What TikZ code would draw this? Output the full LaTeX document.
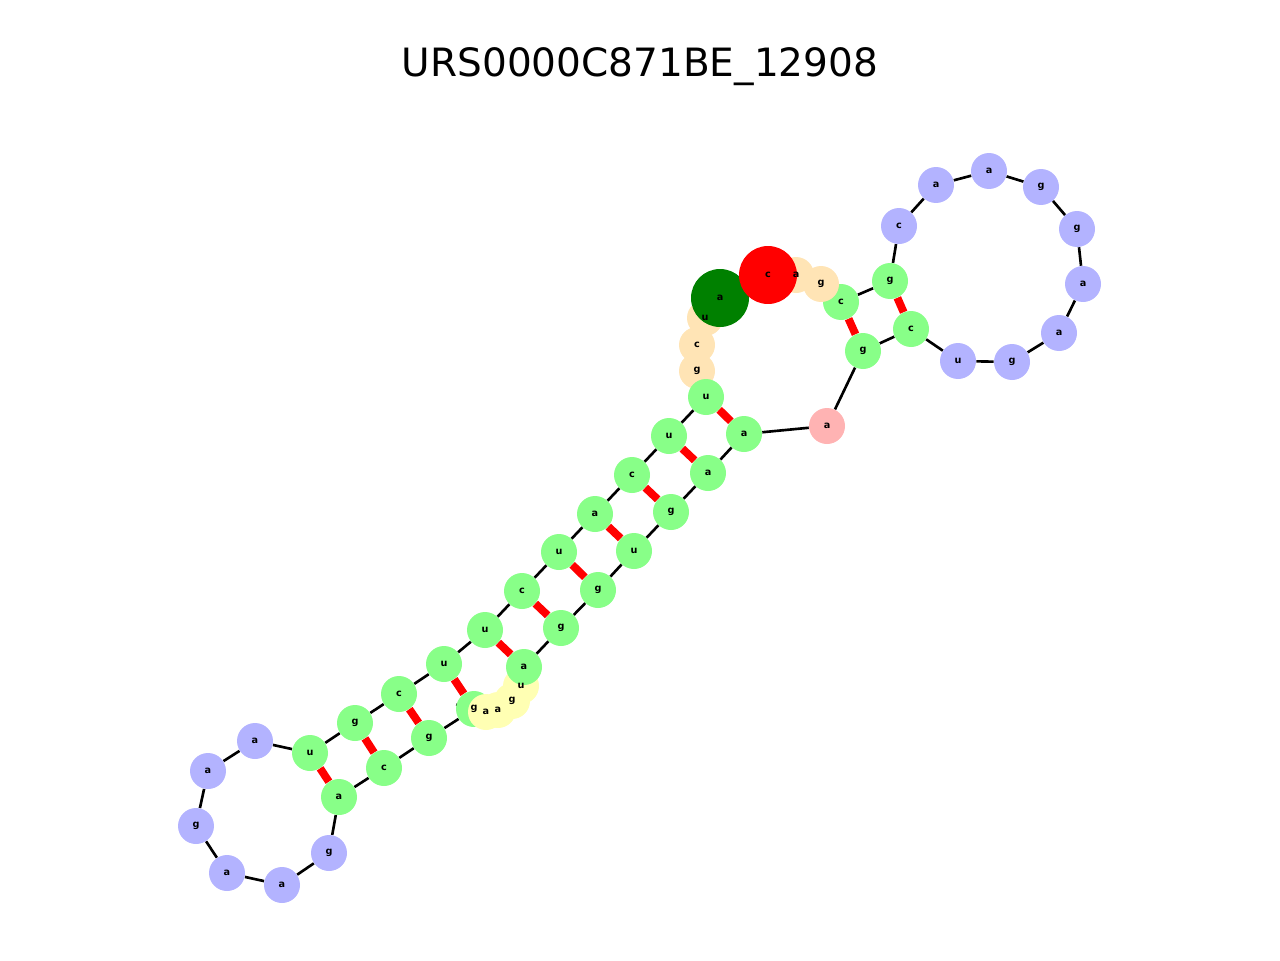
\documentclass[tikz,border=0pt]{standalone}
\usepackage{fontspec}
\setmainfont{DejaVu Sans}
\usetikzlibrary{backgrounds}
\definecolor{stemgreen}{HTML}{88FF88}
\definecolor{loopblue}{HTML}{B3B3FF}
\definecolor{tailbeige}{HTML}{FFE4B5}
\definecolor{intyellow}{HTML}{FFFFB3}
\definecolor{multipink}{HTML}{FFB3B3}
\tikzset{
  base/.style={circle, inner sep=0pt, minimum size=0.72cm},
  stem/.style={base, fill=stemgreen},
  hloop/.style={base, fill=loopblue},
  tail/.style={base, fill=tailbeige},
  iloop/.style={base, fill=intyellow},
  mloop/.style={base, fill=multipink},
  fiveend/.style={base, fill=green!50!black, minimum size=1.16cm},
  threeend/.style={base, fill=red, minimum size=1.16cm},
  letter/.style={inner sep=0pt, font=\fontsize{5.5}{5.5}\selectfont\bfseries},
  backbone/.style={black, line width=1.5pt},
  pairbond/.style={red, line width=4.5pt}
}
% index/x/y/base/style (the two ends last, so they lie on top)
\newcommand{\rnalist}{
  2/705/318/u/tail, 3/697/345/c/tail, 4/697/371/g/tail,
  5/706/397/u/stem, 6/669/436/u/stem, 7/632/475/c/stem, 8/595/514/a/stem,
  9/559/552/u/stem, 10/522/591/c/stem, 11/485/630/u/stem, 12/444/664/u/stem,
  13/399/694/c/stem, 14/355/723/g/stem, 15/310/753/u/stem,
  16/255/741/a/hloop, 17/208/771/a/hloop, 18/196/826/g/hloop,
  19/227/873/a/hloop, 20/282/885/a/hloop, 21/329/853/g/hloop,
  22/339/797/a/stem, 23/384/768/c/stem, 24/429/738/g/stem, 25/474/709/g/stem,
  26/486/712/a/iloop, 27/498/710/a/iloop, 28/512/701/g/iloop, 29/521/686/u/iloop,
  30/524/667/a/stem, 31/561/628/g/stem, 32/598/590/g/stem, 33/634/551/u/stem,
  34/671/512/g/stem, 35/708/473/a/stem, 36/744/434/a/stem,
  37/827/426/a/mloop,
  38/863/351/g/stem, 39/911/329/c/stem,
  40/958/361/u/hloop, 41/1012/362/g/hloop, 42/1059/333/a/hloop,
  43/1083/284/a/hloop, 44/1077/229/g/hloop, 45/1041/187/g/hloop,
  46/989/171/a/hloop, 47/936/185/a/hloop, 48/899/226/c/hloop,
  49/890/281/g/stem, 50/841/302/c/stem,
  51/821/284/g/tail, 52/796/275/a/tail,
  1/720/298/a/fiveend, 53/768/275/c/threeend}
\begin{document}
\begin{tikzpicture}[x=0.02cm, y=-0.02cm]
    \useasboundingbox (0,0) rectangle (1280,960);
    % Title
    \node[font=\fontsize{22.2}{22.2}\selectfont] (title) at (640,67) {URS0000C871BE\_12908};

    % Nucleotide discs
    \foreach \i/\x/\y/\b/\s in \rnalist
      \node[\s] (n\i) at (\x,\y) {};
    % Letters on top of all discs
    \foreach \i/\x/\y/\b/\s in \rnalist
      \node[letter] (t\i) at (n\i.center) {\b};

    % Backbone and base pairs
    \begin{scope}[on background layer]
      \foreach \i [evaluate=\i as \j using int(\i+1)] in {1,...,52}
        \draw[backbone] (n\i) -- (n\j);
      \foreach \p/\q in {5/36, 6/35, 7/34, 8/33, 9/32, 10/31, 11/30,
                         12/25, 13/24, 14/23, 15/22, 38/50, 39/49}
        \draw[pairbond] (n\p) -- (n\q);
    \end{scope}
\end{tikzpicture}
\end{document}
